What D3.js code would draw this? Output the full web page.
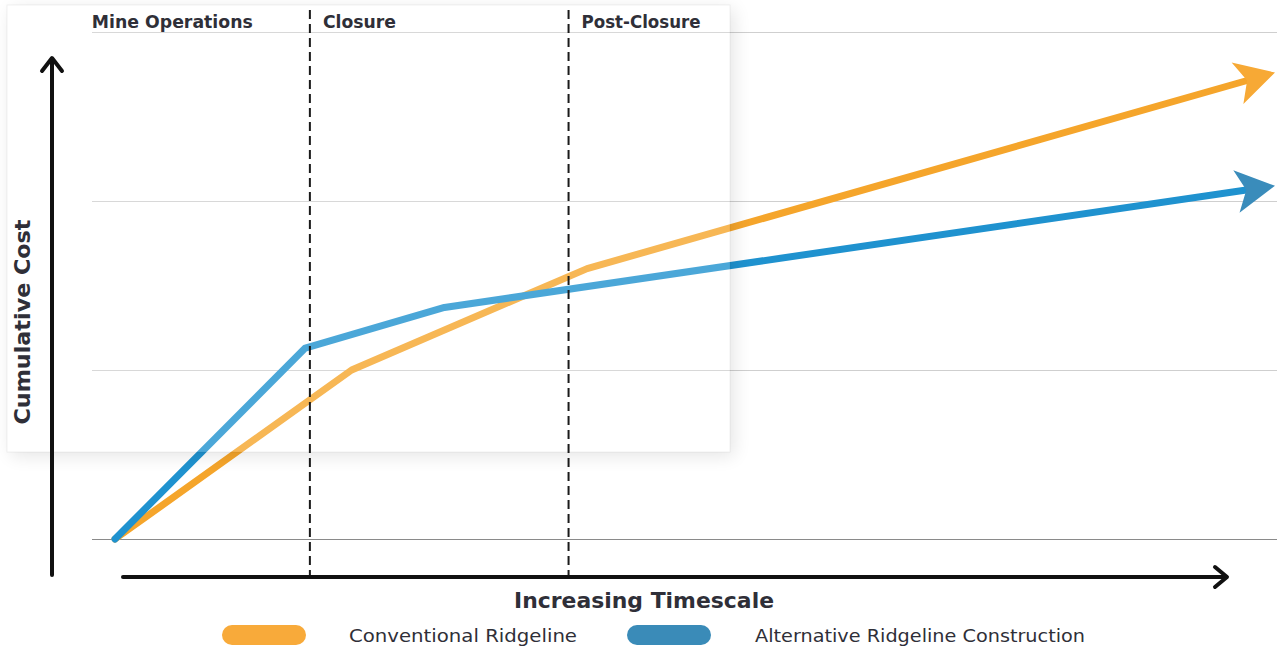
<!DOCTYPE html>
<html>
<head>
<meta charset="utf-8">
<script src="https://cdn.jsdelivr.net/npm/d3@7"></script>
<style>
  html, body { margin: 0; padding: 0; background: #fff; }
  svg { display: block; }
  text { font-family: "DejaVu Sans", "Open Sans", sans-serif; fill: #2f2f38; }
</style>
</head>
<body>
<svg id="chart" width="1277" height="650"></svg>
<script>
// Relative timescale (0-100) and cumulative cost units (gridlines at 0..3)
const conventionalTime = [0, 20.4, 40.7, 100];
const conventionalCost = [0, 1.0, 1.6, 2.76];
const alternativeTime  = [0, 16.4, 28.4, 100];
const alternativeCost  = [0, 1.13, 1.37, 2.09];

const costTicks = [0, 1, 2, 3];
const phaseNames = ["Mine Operations", "Closure", "Post-Closure"];
const phaseStarts = [-2, 16.8, 39.1];
const phaseBoundaries = [16.8, 39.1];

const seriesNames = ["Conventional Ridgeline", "Alternative Ridgeline Construction"];

const svg = d3.select("#chart");
const W = 1277, H = 650;

const x = d3.scaleLinear().domain([0, 100]).range([115, 1275]);
const y = d3.scaleLinear().domain([0, 3]).range([539, 32]);

const defs = svg.append("defs");
const blur = defs.append("filter").attr("id", "soft")
  .attr("x", "-20%").attr("y", "-20%").attr("width", "140%").attr("height", "140%");
blur.append("feGaussianBlur").attr("stdDeviation", 9);

// Gridlines
svg.append("g").selectAll("line").data(costTicks).join("line")
  .attr("x1", 92).attr("x2", W)
  .attr("y1", d => Math.round(y(d)) + 0.5).attr("y2", d => Math.round(y(d)) + 0.5)
  .attr("stroke", d => d === 0 ? "#8a8a8a" : "#cfcfcf")
  .attr("stroke-width", 1);

// Series lines with arrowheads
const series = [
  { t: conventionalTime, c: conventionalCost, line: "#f5a52b", head: "#f7a935" },
  { t: alternativeTime,  c: alternativeCost,  line: "#1f92cf", head: "#3a8cbb" }
];

const lineGen = d3.line().x(d => d[0]).y(d => d[1]);
const ARROW_NOTCH = 29;

series.forEach(s => {
  const pts = s.t.map((t, i) => [x(t), y(s.c[i])]);
  const n = pts.length;
  const tip = pts[n - 1], prev = pts[n - 2];
  const ang = Math.atan2(tip[1] - prev[1], tip[0] - prev[0]);
  const shaft = pts.slice(0, n - 1).concat([[tip[0] - ARROW_NOTCH * Math.cos(ang), tip[1] - ARROW_NOTCH * Math.sin(ang)]]);
  svg.append("path")
    .attr("d", lineGen(shaft))
    .attr("fill", "none")
    .attr("stroke", s.line)
    .attr("stroke-width", 7)
    .attr("stroke-linejoin", "round")
    .attr("stroke-linecap", "round");
  svg.append("path")
    .attr("d", "M0,0 L-39,-21.5 L-29,0 L-39,21.5 Z")
    .attr("fill", s.head)
    .attr("transform", `translate(${tip[0]},${tip[1]}) rotate(${ang * 180 / Math.PI})`);
});

// Translucent panel over the operations / closure region, with a soft shadow
const panel = { x: 7, y: 5, w: 723, h: 447 };
const mask = defs.append("mask").attr("id", "outside");
mask.append("rect").attr("x", 0).attr("y", 0).attr("width", W).attr("height", H).attr("fill", "#fff");
mask.append("rect").attr("x", panel.x).attr("y", panel.y).attr("width", panel.w).attr("height", panel.h).attr("fill", "#000");

svg.append("g").attr("mask", "url(#outside)")
  .append("rect")
  .attr("x", panel.x + 4).attr("y", panel.y + 4)
  .attr("width", panel.w).attr("height", panel.h)
  .attr("fill", "#000").attr("opacity", 0.10)
  .attr("filter", "url(#soft)");

svg.append("rect")
  .attr("x", panel.x).attr("y", panel.y)
  .attr("width", panel.w).attr("height", panel.h)
  .attr("fill", "#fff").attr("fill-opacity", 0.2)
  .attr("stroke", "#000").attr("stroke-opacity", 0.06).attr("stroke-width", 1);

// Phase boundaries
svg.append("g").selectAll("line").data(phaseBoundaries).join("line")
  .attr("x1", d => x(d)).attr("x2", d => x(d))
  .attr("y1", 10).attr("y2", 577)
  .attr("stroke", "#1a1a1a").attr("stroke-width", 2)
  .attr("stroke-dasharray", "9,5");

// Phase labels
const phaseLabelWidths = [161, 73, 119];
svg.append("g").selectAll("text").data(phaseNames).join("text")
  .attr("x", (d, i) => x(phaseStarts[i]) + (i === 0 ? 0 : 13))
  .attr("y", 28)
  .attr("font-size", 18)
  .attr("font-weight", 700)
  .attr("textLength", (d, i) => phaseLabelWidths[i])
  .attr("lengthAdjust", "spacingAndGlyphs")
  .text(d => d);

// Axes arrows
const ax = svg.append("g").attr("stroke", "#111").attr("fill", "none")
  .attr("stroke-linecap", "round").attr("stroke-linejoin", "round");
ax.append("line").attr("x1", 52).attr("x2", 52).attr("y1", 575).attr("y2", 59).attr("stroke-width", 4);
ax.append("path").attr("d", "M42,71 L52,58 L62,71").attr("stroke-width", 4);
ax.append("line").attr("x1", 123).attr("x2", 1226).attr("y1", 577).attr("y2", 577).attr("stroke-width", 4);
ax.append("path").attr("d", "M1215,567 L1227,577 L1215,587").attr("stroke-width", 4);

// Axis titles
svg.append("text")
  .attr("transform", "translate(30,322) rotate(-90)")
  .attr("text-anchor", "middle")
  .attr("font-size", 22).attr("font-weight", 700)
  .attr("textLength", 205).attr("lengthAdjust", "spacingAndGlyphs")
  .text("Cumulative Cost");

svg.append("text")
  .attr("x", 644).attr("y", 608)
  .attr("text-anchor", "middle")
  .attr("font-size", 22).attr("font-weight", 700)
  .attr("textLength", 260).attr("lengthAdjust", "spacingAndGlyphs")
  .text("Increasing Timescale");

// Legend
const legendColors = ["#f8aa3a", "#3a8bb8"];
const legendSwatchX = [222, 627];
const legendTextX = [349, 755];
const legendTextWidths = [228, 330];
const lg = svg.append("g");
seriesNames.forEach((name, i) => {
  lg.append("rect")
    .attr("x", legendSwatchX[i]).attr("y", 625)
    .attr("width", 84).attr("height", 20).attr("rx", 10)
    .attr("fill", legendColors[i]);
  lg.append("text")
    .attr("x", legendTextX[i]).attr("y", 642)
    .attr("font-size", 18.5)
    .attr("textLength", legendTextWidths[i])
    .attr("lengthAdjust", "spacingAndGlyphs")
    .text(name);
});
</script>
</body>
</html>
